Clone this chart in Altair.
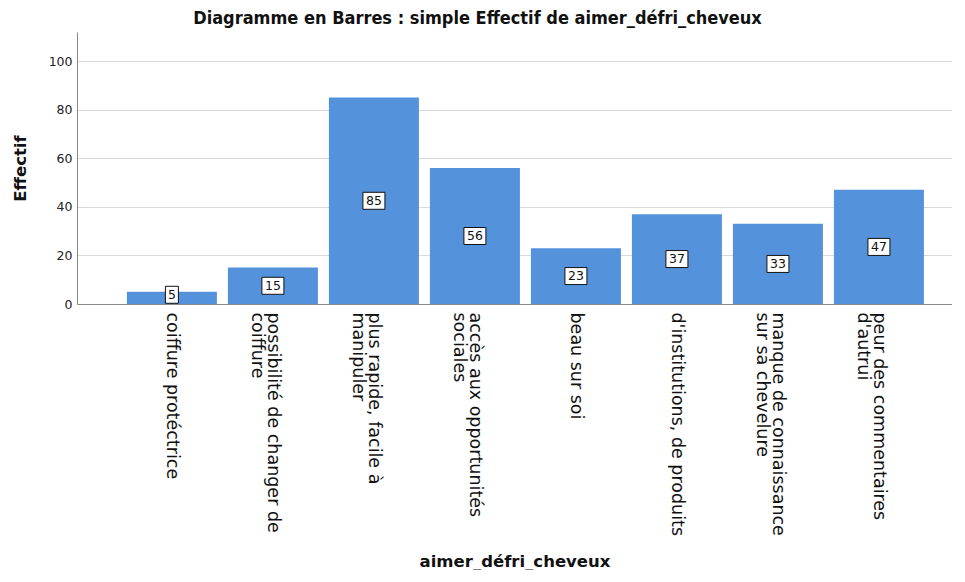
import altair as alt
import pandas as pd

categories = [
    "coiffure protéctrice",
    "possibilité de changer de\ncoiffure",
    "plus rapide, facile à\nmanipuler",
    "accès aux opportunités\nsociales",
    "beau sur soi",
    "d'institutions, de produits",
    "manque de connaissance\nsur sa chevelure",
    "peur des commentaires\nd'autrui",
]
counts = [5, 15, 85, 56, 23, 37, 33, 47]
y_ticks = [0, 20, 40, 60, 80, 100]

df = pd.DataFrame({"cat": categories, "n": counts})

BAR = "#5592dc"
FONT = "DejaVu Sans"

x_enc = alt.X(
    "cat:N",
    sort=categories,
    title="aimer_défri_cheveux",
    scale=alt.Scale(paddingInner=0.109, paddingOuter=0.386, align=0.64),
    axis=alt.Axis(
        labelAngle=90,
        labelExpr="split(datum.label, '\\n')",
        labelFont=FONT,
        labelFontSize=17.5,
        labelLineHeight=16,
        labelColor="#111111",
        labelPadding=8,
        labelLimit=400,
        ticks=False,
        domainColor="#8a8a8a",
        titleFont=FONT,
        titleFontSize=16.5,
        titleFontWeight="bold",
        titleColor="#111111",
        titleY=257,
        titleBaseline="middle",
        grid=False,
    ),
)

y_enc = alt.Y(
    "n:Q",
    title="Effectif",
    scale=alt.Scale(domain=[0, 112], nice=False),
    axis=alt.Axis(
        values=y_ticks,
        labelFont=FONT,
        labelFontSize=12.5,
        labelColor="#222222",
        labelPadding=5,
        ticks=False,
        domainColor="#8a8a8a",
        gridColor="#d9d9d9",
        titleFont=FONT,
        titleFontSize=16.5,
        titleFontWeight="bold",
        titleColor="#111111",
        titleX=-57,
        titleY=136,
        titleBaseline="middle",
        titleAlign="center",
    ),
)

bars = alt.Chart(df).mark_bar(color=BAR).encode(x=x_enc, y=y_enc)

base_lbl = alt.Chart(df).transform_calculate(mid="max(datum.n / 2, 3.8)")

box_narrow = base_lbl.transform_filter("datum.n < 10").mark_point(
    shape="M-6.5,-8.5H6.5V8.5H-6.5Z", size=4, filled=True, fill="white",
    stroke="#111111", strokeWidth=1, opacity=1,
).encode(x=alt.X("cat:N", sort=categories), y=alt.Y("mid:Q"))

box_wide = base_lbl.transform_filter("datum.n >= 10").mark_point(
    shape="M-11,-8.5H11V8.5H-11Z", size=4, filled=True, fill="white",
    stroke="#111111", strokeWidth=1, opacity=1,
).encode(x=alt.X("cat:N", sort=categories), y=alt.Y("mid:Q"))

texts = base_lbl.mark_text(
    font=FONT, fontSize=12.5, color="#111111", align="center", baseline="middle"
).encode(x=alt.X("cat:N", sort=categories), y=alt.Y("mid:Q"), text="n:Q")

chart = (
    alt.layer(bars, box_narrow, box_wide, texts)
    .properties(
        width=875,
        height=272,
        autosize=alt.AutoSizeParams(type="none"),
        padding={"left": 69, "top": 24, "right": 0, "bottom": 266},
        title=alt.TitleParams(
            "Diagramme en Barres : simple Effectif de aimer_défri_cheveux",
            font="DejaVu Sans Condensed",
            fontSize=18,
            fontWeight="bold",
            color="#111111",
            anchor="middle",
            dx=-37,
            dy=15,
            baseline="alphabetic",
            offset=5,
        ),
    )
    .configure_view(stroke=None)
    .configure_axis(gridWidth=1)
)

chart.save("out.html", embed_options={"renderer": "svg", "actions": False})
